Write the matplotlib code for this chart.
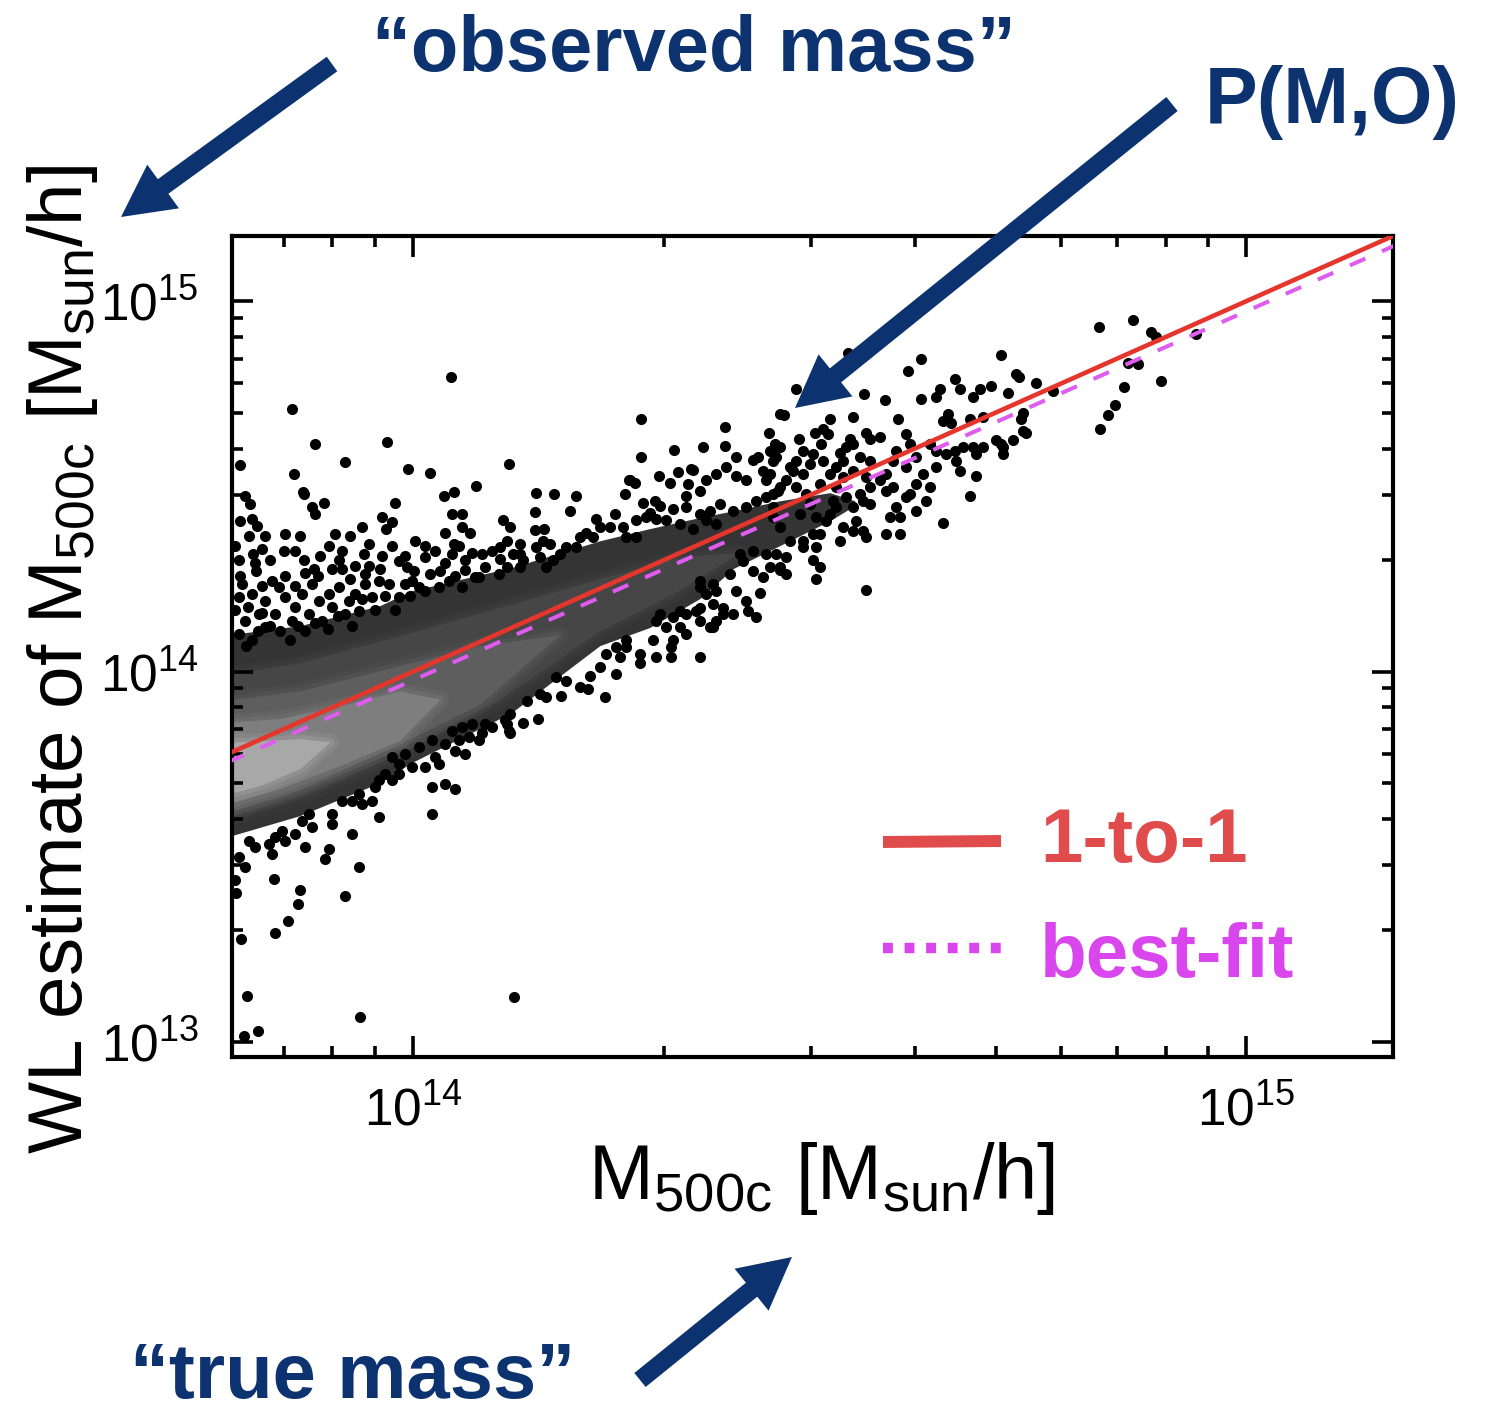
import numpy as np
import matplotlib
matplotlib.use("Agg")
import matplotlib.pyplot as plt
from matplotlib.patches import FancyArrow
from matplotlib.ticker import LogLocator, NullFormatter, LogFormatterMathtext

plt.rcParams['font.family'] = ['Liberation Sans', 'DejaVu Sans']
plt.rcParams['mathtext.fontset'] = 'custom'
plt.rcParams['mathtext.rm'] = 'Liberation Sans'
plt.rcParams['mathtext.it'] = 'Liberation Sans:italic'
plt.rcParams['mathtext.bf'] = 'Liberation Sans:bold'

NAVY = '#0c3370'

# axis ranges [Msun/h]
true_range = (6.06e13, 1.50e15)
wl_range = (9.1e12, 1.50e15)

# 1-to-1 and best-fit relations
line_true = [6.0e13, 1.6e15]
bestfit_true = [6.0e13, 1.6e15]
bestfit_wl = [5.70e13, 1.50e15]

# density band of the bulk of halos: log10 true mass, log10 WL mass (lower / upper edge)
band_levels = [
    # (gray, logM_true, lower, upper)
    ('#343434',
     [13.770, 13.864, 13.960, 13.998, 14.118, 14.224, 14.284, 14.344, 14.384, 14.440, 14.500, 14.530],
     [13.549, 13.611, 13.700, 13.754, 13.889, 14.070, 14.119, 14.197, 14.278, 14.340, 14.407, 14.448],
     [14.097, 14.124, 14.178, 14.218, 14.281, 14.353, 14.386, 14.416, 14.434, 14.461, 14.483, 14.461]),
    ('#464646',
     [13.770, 13.864, 13.984, 14.104, 14.224, 14.320, 14.392],
     [13.600, 13.665, 13.778, 13.925, 14.110, 14.220, 14.322],
     [13.989, 14.024, 14.097, 14.173, 14.251, 14.310, 14.322]),
    ('#5e5e5e',
     [13.770, 13.864, 13.984, 14.080, 14.176],
     [13.615, 13.682, 13.805, 13.912, 14.100],
     [13.921, 13.948, 14.016, 14.070, 14.100]),
    ('#7e7e7e',
     [13.770, 13.840, 13.912, 13.984, 14.032],
     [13.638, 13.684, 13.746, 13.814, 13.925],
     [13.862, 13.873, 13.908, 13.948, 13.925]),
    ('#a8a8a8',
     [13.770, 13.816, 13.864, 13.900],
     [13.665, 13.692, 13.738, 13.810],
     [13.808, 13.813, 13.819, 13.810]),
]

# individual halos outside the dense band: (log10 M500c, log10 M_WL)
outliers_high = [
    (14.045, 14.796), (13.854, 14.710), (13.882, 14.615), (13.968, 14.621), (13.792, 14.559),
    (13.918, 14.567), (13.857, 14.534), (13.994, 14.548), (14.020, 14.537), (14.115, 14.561),
    (13.868, 14.486), (14.075, 14.502), (14.037, 14.475), (14.049, 14.486), (14.148, 14.483),
    (14.169, 14.480), (14.196, 14.475), (14.273, 14.683), (14.273, 14.578), (14.374, 14.661),
    (14.374, 14.610), (14.348, 14.607), (14.313, 14.597), (14.445, 14.694), (14.459, 14.764),
    (14.427, 14.645), (14.463, 14.629), (14.482, 14.645), (14.259, 14.516), (14.254, 14.480),
    (14.295, 14.529), (14.318, 14.540), (14.336, 14.545), (14.388, 14.580), (14.408, 14.572),
    (14.435, 14.605), (14.522, 14.861), (14.610, 14.845), (14.594, 14.812), (14.706, 14.856),
    (14.723, 14.804), (14.727, 14.794), (14.748, 14.780), (14.768, 14.758), (14.650, 14.791),
    (14.656, 14.764), (14.694, 14.772), (14.680, 14.764), (14.672, 14.740), (14.714, 14.753),
    (14.632, 14.764), (14.628, 14.740), (14.610, 14.737), (14.566, 14.734), (14.541, 14.750),
    (14.528, 14.686), (14.500, 14.683), (14.582, 14.683), (14.823, 14.931), (14.864, 14.950),
    (14.886, 14.918), (14.891, 14.902), (14.940, 14.912), (14.858, 14.834), (14.870, 14.831),
    (14.898, 14.785), (14.853, 14.769), (14.842, 14.721), (14.834, 14.694), (14.824, 14.656),
    (14.730, 14.683), (14.732, 14.650), (14.720, 14.624), (14.705, 14.615), (14.676, 14.529),
    (14.668, 14.475), (14.636, 14.402), (14.544, 14.219),
]

cluster_high_mass = [
    (14.642, 14.696), (14.636, 14.677), (14.646, 14.672), (14.668, 14.683), (14.684, 14.686),
    (14.732, 14.699), (14.736, 14.645), (14.544, 14.645), (14.548, 14.629), (14.560, 14.632),
    (14.592, 14.642), (14.596, 14.615), (14.524, 14.629), (14.520, 14.605), (14.512, 14.591),
    (14.528, 14.615), (14.490, 14.615), (14.480, 14.588), (14.468, 14.596), (14.460, 14.569),
    (14.452, 14.551), (14.440, 14.605), (14.436, 14.578), (14.428, 14.534), (14.492, 14.656),
    (14.498, 14.642), (14.620, 14.615), (14.628, 14.596), (14.640, 14.588), (14.650, 14.596),
    (14.660, 14.605), (14.672, 14.605), (14.684, 14.605), (14.700, 14.624), (14.708, 14.605),
    (14.708, 14.588), (14.676, 14.588), (14.652, 14.569), (14.656, 14.542), (14.592, 14.551),
    (14.604, 14.578), (14.612, 14.534), (14.620, 14.497), (14.628, 14.551), (14.604, 14.507),
    (14.596, 14.480), (14.616, 14.461), (14.604, 14.434), (14.592, 14.470), (14.580, 14.596),
    (14.576, 14.569), (14.568, 14.534), (14.560, 14.516), (14.568, 14.488), (14.576, 14.497),
    (14.580, 14.443), (14.584, 14.416), (14.572, 14.416), (14.568, 14.372), (14.584, 14.372),
    (14.548, 14.569), (14.536, 14.578), (14.528, 14.542), (14.544, 14.524), (14.548, 14.497),
    (14.536, 14.480), (14.540, 14.461), (14.548, 14.453), (14.528, 14.443), (14.532, 14.407),
    (14.540, 14.380), (14.544, 14.362), (14.528, 14.380), (14.516, 14.569), (14.508, 14.551),
    (14.516, 14.524), (14.500, 14.534), (14.492, 14.569), (14.488, 14.507), (14.508, 14.497),
    (14.520, 14.470), (14.508, 14.443), (14.500, 14.426), (14.516, 14.389), (14.512, 14.353),
    (14.488, 14.372), (14.496, 14.407), (14.504, 14.461), (14.476, 14.561), (14.468, 14.534),
    (14.456, 14.542), (14.448, 14.516), (14.440, 14.497), (14.432, 14.480), (14.460, 14.497),
    (14.472, 14.480), (14.476, 14.453), (14.464, 14.426), (14.484, 14.416), (14.480, 14.372),
    (14.468, 14.353), (14.452, 14.353), (14.440, 14.389), (14.432, 14.416), (14.468, 14.335),
    (14.484, 14.335), (14.436, 14.318), (14.448, 14.308), (14.480, 14.300), (14.488, 14.281),
    (14.440, 14.273), (14.484, 14.251),
]

cluster_mid_mass = [
    (14.440, 14.696), (14.414, 14.580), (14.428, 14.596), (14.434, 14.615), (14.146, 14.432),
    (14.188, 14.434), (14.146, 14.383), (14.157, 14.386), (14.260, 14.516), (14.266, 14.510),
    (14.308, 14.510), (14.334, 14.548), (14.330, 14.507), (14.328, 14.475), (14.344, 14.488),
    (14.352, 14.516), (14.364, 14.534), (14.376, 14.551), (14.388, 14.529), (14.400, 14.516),
    (14.420, 14.542), (14.424, 14.516), (14.432, 14.569), (14.276, 14.456), (14.290, 14.461),
    (14.284, 14.429), (14.296, 14.448), (14.312, 14.440), (14.328, 14.443), (14.344, 14.426),
    (14.356, 14.434), (14.368, 14.453), (14.384, 14.434), (14.400, 14.443), (14.412, 14.461),
    (14.424, 14.470), (14.432, 14.443), (14.438, 14.488), (14.268, 14.408), (14.280, 14.416),
    (14.292, 14.413), (14.304, 14.408), (14.320, 14.399), (14.336, 14.386), (14.352, 14.408),
    (14.364, 14.399), (14.220, 14.413), (14.242, 14.426), (14.236, 14.389), (14.224, 14.389),
    (14.252, 14.389), (14.256, 14.362), (14.268, 14.362), (14.200, 14.362), (14.208, 14.375),
    (14.216, 14.362), (14.196, 14.335), (14.184, 14.335), (14.108, 14.408), (14.116, 14.389),
    (14.112, 14.353), (14.128, 14.345), (14.120, 14.318), (14.132, 14.300), (14.148, 14.335),
    (14.156, 14.353), (14.164, 14.345), (14.168, 14.300), (14.152, 14.308), (14.176, 14.318),
    (14.160, 14.281), (14.112, 14.281), (14.128, 14.281), (14.104, 14.335),
]

below_band = [
    (14.392, 14.318), (14.408, 14.326), (14.424, 14.318), (14.380, 14.264), (14.408, 14.272),
    (14.420, 14.254), (14.428, 14.281), (14.344, 14.245), (14.352, 14.210), (14.364, 14.218),
    (14.388, 14.218), (14.416, 14.213), (14.360, 14.183), (14.340, 14.164), (14.400, 14.191),
    (14.402, 14.164), (14.372, 14.156), (14.384, 14.156), (14.412, 14.146), (14.328, 14.156),
    (14.344, 14.137), (14.360, 14.119), (14.320, 14.119), (14.296, 14.156), (14.304, 14.119),
    (14.312, 14.084), (14.288, 14.084), (14.256, 14.084), (14.244, 14.065), (14.272, 14.048),
    (14.232, 14.048), (14.292, 14.038), (14.344, 14.038), (14.310, 14.065), (14.328, 14.102),
    (14.310, 14.038), (14.272, 14.024), (14.230, 13.930), (14.244, 13.994), (14.200, 13.957),
    (14.210, 13.954), (14.178, 13.935), (14.184, 13.975), (14.172, 13.984), (14.212, 13.989),
    (14.224, 14.011), (14.256, 14.065), (14.248, 14.038), (14.292, 14.137), (14.312, 14.146),
    (14.320, 14.164), (14.344, 14.172), (14.356, 14.119), (14.364, 14.137), (14.372, 14.172),
    (14.344, 14.227), (14.360, 14.237), (14.160, 13.930), (14.152, 13.940), (14.136, 13.921),
    (14.116, 13.886), (14.132, 13.862), (14.112, 13.859), (14.116, 13.835), (14.150, 13.873),
    (14.396, 14.299), (14.440, 14.281), (14.448, 14.264),
    (14.046, 13.840), (14.058, 13.849), (14.070, 13.859), (14.086, 13.859), (14.094, 13.849),
    (14.110, 13.868), (14.115, 13.840), (14.038, 13.805), (14.055, 13.814), (14.067, 13.822),
    (14.079, 13.814), (14.082, 13.835), (14.022, 13.814), (14.007, 13.795), (13.990, 13.778),
    (13.974, 13.768), (13.983, 13.751), (13.998, 13.741), (14.014, 13.741), (14.026, 13.768),
    (14.031, 13.751), (14.062, 13.778), (14.050, 13.786), (13.959, 13.706), (13.974, 13.706),
    (13.983, 13.724), (13.966, 13.724), (13.954, 13.687), (14.022, 13.687), (14.038, 13.697),
    (14.050, 13.684), (14.022, 13.616), (13.935, 13.670), (13.926, 13.651), (13.914, 13.651),
    (13.938, 13.643), (13.950, 13.651), (13.959, 13.606), (13.902, 13.616), (13.902, 13.589),
    (13.875, 13.616), (13.866, 13.597), (13.878, 13.579), (13.926, 13.562), (13.842, 13.570),
    (13.834, 13.552), (13.846, 13.543), (13.858, 13.562), (13.870, 13.525), (13.899, 13.522),
    (13.894, 13.495), (13.803, 13.543), (13.810, 13.525), (13.830, 13.508), (13.827, 13.535),
    (13.791, 13.498), (13.798, 13.471), (13.935, 13.471), (13.833, 13.441),
    (13.864, 13.411), (13.862, 13.373), (13.918, 13.395), (13.850, 13.327), (13.834, 13.295),
    (13.793, 13.279), (13.787, 13.403), (13.786, 13.436), (13.800, 13.125), (14.121, 13.122),
    (13.936, 13.066), (13.797, 13.017), (13.814, 13.030),
]

above_band_low_mass = [
    (13.978, 14.456), (14.046, 14.426), (14.058, 14.426), (14.038, 14.375), (14.049, 14.345),
    (14.058, 14.389), (14.068, 14.375), (14.055, 14.340), (13.962, 14.416), (13.974, 14.405),
    (13.967, 14.386), (13.938, 14.391), (13.878, 14.443), (13.882, 14.426), (13.893, 14.456),
    (13.869, 14.480), (13.798, 14.475), (13.804, 14.453), (13.806, 14.413), (13.812, 14.394),
    (13.808, 14.318), (13.818, 14.332), (13.810, 14.294), (13.811, 14.272), (13.794, 14.237),
    (13.830, 14.245), (13.846, 14.259), (13.845, 14.326), (13.846, 14.372), (13.803, 14.367),
    (13.906, 14.372), (13.791, 14.300), (13.899, 14.340), (13.914, 14.326), (13.911, 14.300),
    (13.902, 14.278), (13.914, 14.278), (13.869, 14.300), (13.881, 14.278), (13.870, 14.267),
    (13.947, 14.345), (13.941, 14.318), (13.947, 14.286), (13.942, 14.264), (13.962, 14.313),
    (13.990, 14.313), (13.992, 14.281), (14.001, 14.272), (13.983, 14.299), (14.014, 14.340),
    (14.014, 14.308), (14.026, 14.326), (14.032, 14.272), (14.020, 14.264), (14.038, 14.294),
    (14.046, 14.318), (14.062, 14.300), (14.070, 14.321), (14.082, 14.318), (14.094, 14.326),
    (14.086, 14.281), (14.062, 14.273), (14.079, 14.254),
    (13.791, 14.200), (13.806, 14.210), (13.822, 14.191), (13.815, 14.156), (13.798, 14.137),
    (13.791, 14.102), (13.806, 14.084), (13.822, 14.119), (13.834, 14.156), (13.846, 14.200),
    (13.839, 14.227), (13.858, 14.173), (13.854, 14.137), (13.866, 14.210), (13.878, 14.237),
    (13.887, 14.191), (13.875, 14.156), (13.870, 14.110), (13.890, 14.137), (13.902, 14.173),
    (13.899, 14.210), (13.911, 14.227), (13.923, 14.191), (13.918, 14.156), (13.930, 14.210),
    (13.942, 14.237), (13.950, 14.200), (13.935, 14.164), (13.959, 14.245), (13.971, 14.237),
    (13.983, 14.200), (13.990, 14.237), (13.998, 14.245), (14.007, 14.227), (14.031, 14.227),
    (14.043, 14.245), (14.058, 14.227), (14.074, 14.254), (14.103, 14.264),
    (13.786, 14.165), (13.802, 14.173), (13.818, 14.159), (13.828, 14.124), (13.814, 14.110),
    (13.799, 14.070), (13.840, 14.110), (13.852, 14.084), (13.862, 14.124), (13.882, 14.132),
    (13.898, 14.116), (13.910, 14.151), (13.926, 14.124), (13.938, 14.197), (13.954, 14.165),
    (13.966, 14.205), (13.978, 14.165), (13.996, 14.205), (14.014, 14.218), (13.792, 14.259),
    (13.818, 14.232), (13.858, 14.232), (13.886, 14.259), (13.924, 14.251), (13.960, 14.278),
    (13.974, 14.340), (14.002, 14.353), (14.050, 14.259), (14.104, 14.305), (14.128, 14.318),
    (13.786, 14.340), (13.828, 14.300), (13.858, 14.326), (13.888, 14.313), (13.930, 14.286),
    (13.792, 14.407), (13.822, 14.367), (13.864, 14.367), (13.924, 14.367),
]

halo_groups = [outliers_high, cluster_high_mass, cluster_mid_mass, below_band, above_band_low_mass]


def main():
    fig = plt.figure(figsize=(14.87, 14.13), dpi=100)
    ax = fig.add_axes([0.156, 0.2519, 0.7808, 0.5811])
    ax.set_xscale('log')
    ax.set_yscale('log')

    # density band, inner levels feathered so the shading looks smooth
    for i, (gray, lx, lo, hi) in enumerate(band_levels):
        x = 10 ** np.array(lx)
        y1 = 10 ** np.array(lo)
        y2 = 10 ** np.array(hi)
        if i > 0:
            for lw, a in [(12, 0.2), (6, 0.3)]:
                ax.fill_between(x, y1, y2, facecolor=gray, edgecolor=gray,
                                lw=lw, alpha=a, zorder=1)
        ax.fill_between(x, y1, y2, color=gray, lw=0, zorder=1)

    # individual halos
    for group in halo_groups:
        arr = np.array(group)
        ax.plot(10 ** arr[:, 0], 10 ** arr[:, 1], 'o', color='black', ms=8.0,
                mew=0, zorder=2)

    # relations
    ax.plot(line_true, line_true, color='#e5362e', lw=3.3, zorder=3)
    ax.plot(bestfit_true, bestfit_wl, color='#de5cf0', lw=2.9,
            dashes=(4.2, 4.5), zorder=3)

    ax.set_xlim(*true_range)
    ax.set_ylim(*wl_range)

    for s in ax.spines.values():
        s.set_linewidth(3.0)
    for axis in (ax.xaxis, ax.yaxis):
        axis.set_major_locator(LogLocator(base=10))
        axis.set_minor_locator(LogLocator(base=10, subs=np.arange(2, 10)))
        axis.set_major_formatter(LogFormatterMathtext())
        axis.set_minor_formatter(NullFormatter())
    ax.tick_params(which='both', direction='in', top=True, right=True, width=2.6)
    ax.tick_params(which='major', length=15, labelsize=37)
    ax.tick_params(which='minor', length=8)
    ax.tick_params(axis='x', which='major', pad=21)
    ax.tick_params(axis='y', which='major', pad=24)

    ax.set_xlabel(r'M$_\mathregular{500c}$ [M$_\mathregular{sun}$/h]', fontsize=56)
    ax.xaxis.set_label_coords(0.508, -0.101)
    ax.set_ylabel(r'WL estimate of M$_\mathregular{500c}$ [M$_\mathregular{sun}$/h]',
                  fontsize=55)
    ax.yaxis.set_label_coords(-0.114, 0.484)

    # overlay in pixel units for annotations
    ov = fig.add_axes([0, 0, 1, 1], zorder=10)
    ov.set_xlim(0, 1487)
    ov.set_ylim(1413, 0)
    ov.axis('off')
    ov.patch.set_alpha(0)

    # legend
    ov.plot([883, 1001], [842, 841], color='#e04b4b', lw=8.6, solid_capstyle='butt')
    ov.text(1040, 862, '1-to-1', color='#e04b4b', fontsize=55, fontweight='bold',
            va='baseline', ha='left')
    ov.plot([883, 1001], [948, 948], color='#d946ee', lw=7.5,
            linestyle=(0, (0.95, 1.12)), dash_capstyle='butt')
    ov.text(1040, 977, 'best-fit', color='#d946ee', fontsize=55, fontweight='bold',
            va='baseline', ha='left')

    # annotations
    ov.text(372, 71, '\u201cobserved mass\u201d', color=NAVY, fontsize=56,
            fontweight='bold', va='baseline', ha='left')
    ov.text(1205, 123, 'P(M,O)', color=NAVY, fontsize=57,
            fontweight='bold', va='baseline', ha='left')
    ov.text(130, 1398, '\u201ctrue mass\u201d', color=NAVY, fontsize=56,
            fontweight='bold', va='baseline', ha='left')

    arrows = [((332, 64), (121, 217)), ((1172, 104), (795, 408)), ((640, 1380), (792, 1257))]
    for (x0, y0), (x1, y1) in arrows:
        ov.add_patch(FancyArrow(x0, y0, x1 - x0, y1 - y0, width=18, head_width=54,
                                head_length=52, length_includes_head=True,
                                color=NAVY, lw=0))

    fig.savefig('out.png', dpi=100)


if __name__ == "__main__":
    main()
